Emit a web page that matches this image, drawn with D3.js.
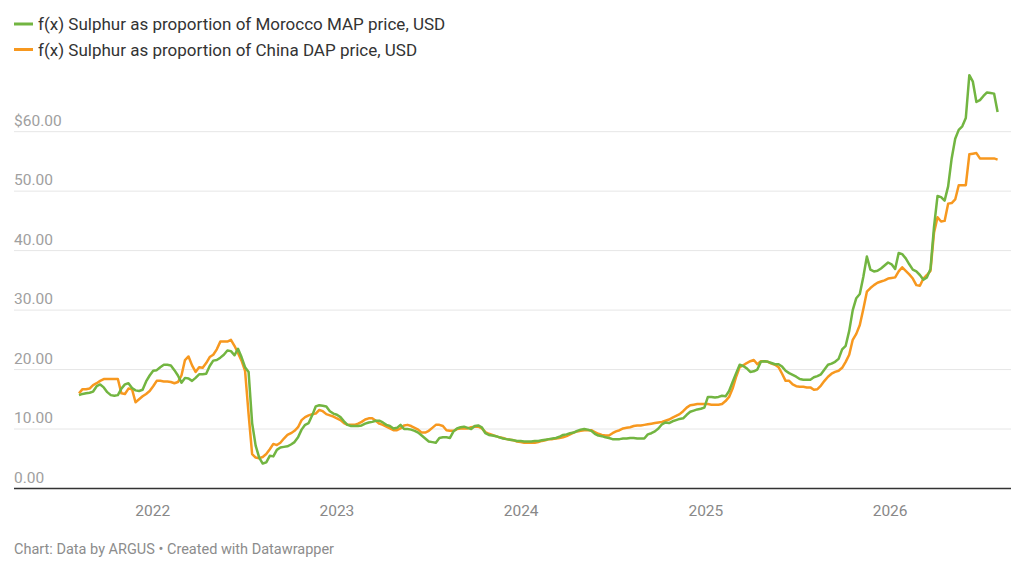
<!DOCTYPE html>
<html>
<head>
<meta charset="utf-8">
<script src="https://cdn.jsdelivr.net/npm/d3@7"></script>
<style>
  body { margin: 0; background: #fff; }
  text { font-family: Roboto, "Noto Sans", sans-serif; }
</style>
</head>
<body>
<div id="chart"></div>
<script>
// weekly observations, first week of the series
var firstWeek = new Date(2021, 7, 9);

var seriesNames = [
  "f(x) Sulphur as proportion of Morocco MAP price, USD",
  "f(x) Sulphur as proportion of China DAP price, USD"
];
var seriesColors = ["#72b541", "#f7981f"];

var moroccoMAP = [
  15.7,15.9,16.0,16.1,16.3,17.2,17.5,17.0,16.2,15.7,
  15.6,15.7,16.8,17.5,17.7,16.9,16.5,16.4,16.6,18.0,
  19.0,19.8,19.9,20.4,20.8,20.8,20.7,19.9,19.0,17.8,
  18.6,18.5,18.1,18.6,19.2,19.2,19.3,20.6,21.5,21.6,
  22.0,22.5,23.2,23.1,22.4,23.5,22.1,20.4,19.6,11.0,
  7.2,5.2,4.2,4.4,5.5,5.4,6.5,6.9,7.0,7.1,
  7.4,7.8,8.6,9.9,10.7,11.0,12.3,13.8,14.0,13.9,
  13.8,13.0,12.6,12.4,12.0,11.3,10.7,10.5,10.5,10.5,
  10.6,10.9,11.1,11.2,11.4,11.4,11.1,10.7,10.5,10.1,
  10.2,10.7,10.0,10.0,9.9,9.7,9.4,8.9,8.4,7.9,
  7.8,7.7,8.5,8.6,8.6,8.5,9.6,10.1,10.3,10.4,
  10.2,10.0,10.5,10.6,10.3,9.3,9.0,8.9,8.8,8.6,
  8.4,8.3,8.2,8.1,8.0,8.0,7.9,7.9,7.9,8.0,
  8.0,8.1,8.2,8.3,8.4,8.5,8.7,9.0,9.1,9.3,
  9.4,9.7,9.9,10.0,9.9,9.7,9.2,8.9,8.8,8.6,
  8.5,8.3,8.3,8.3,8.4,8.4,8.5,8.5,8.4,8.4,
  8.4,9.1,9.3,9.6,10.1,10.8,11.1,11.0,11.3,11.5,
  11.7,11.8,12.4,12.9,13.1,13.3,13.4,13.6,15.4,15.4,
  15.3,15.4,15.6,15.5,16.4,17.9,19.4,20.8,20.6,20.2,
  19.6,19.7,20.0,21.3,21.4,21.3,21.1,20.9,20.9,20.5,
  19.8,19.4,19.1,18.8,18.4,18.3,18.3,18.3,18.7,18.9,
  19.2,20.0,20.8,21.0,21.3,21.8,23.4,24.0,26.5,30.0,
  32.0,32.7,35.6,39.0,36.8,36.5,36.6,37.0,37.5,38.0,
  37.7,36.9,39.6,39.4,38.7,37.7,36.8,36.5,35.9,35.1,
  35.5,36.9,44.0,49.2,49.0,48.4,50.8,55.5,58.8,60.3,
  60.9,62.3,69.5,68.4,65.0,65.3,66.0,66.6,66.5,66.4,
  63.3
];

var chinaDAP = [
  16.0,16.7,16.7,16.8,17.4,17.7,18.1,18.4,18.4,18.4,
  18.4,18.4,16.0,15.9,16.8,16.7,14.5,15.0,15.5,15.9,
  16.4,17.2,18.1,18.1,18.0,18.0,17.9,17.7,17.9,19.0,
  21.6,22.2,20.7,19.6,20.4,20.3,21.1,22.1,22.5,23.4,
  24.7,24.7,24.7,25.0,24.0,22.8,21.5,19.8,12.5,5.8,
  5.2,5.1,5.3,5.8,6.6,7.5,7.3,7.7,8.4,9.0,
  9.3,9.7,10.3,11.5,12.0,12.3,12.5,12.6,13.2,13.0,
  12.5,12.3,12.1,11.8,11.5,11.0,10.7,10.7,10.7,10.9,
  11.2,11.6,11.8,11.8,11.4,10.9,10.7,10.4,10.1,9.8,
  9.8,10.1,10.6,10.7,10.5,10.2,9.9,9.4,9.4,9.7,
  10.2,10.7,10.7,10.5,9.8,9.7,9.7,10.0,10.1,10.1,
  10.1,10.3,10.4,10.4,10.1,9.5,9.2,9.0,8.8,8.6,
  8.5,8.3,8.2,8.1,7.9,7.8,7.7,7.7,7.7,7.7,
  7.8,8.0,8.1,8.3,8.3,8.4,8.5,8.6,8.8,9.1,
  9.4,9.6,9.7,9.8,9.8,9.8,9.5,9.2,9.0,8.9,
  8.9,9.3,9.6,9.8,10.1,10.2,10.3,10.5,10.6,10.6,
  10.7,10.8,10.9,11.0,11.1,11.2,11.4,11.6,11.9,12.2,
  12.5,13.0,13.6,14.0,14.1,14.2,14.2,14.2,14.2,14.1,
  14.1,14.1,14.2,14.7,15.4,16.8,18.8,20.4,20.7,21.1,
  21.4,21.6,20.9,21.4,21.4,21.3,21.0,20.8,20.4,19.3,
  18.1,18.1,17.5,17.2,17.1,17.1,17.0,17.0,16.6,16.7,
  17.3,18.1,18.8,19.3,19.6,19.8,20.3,21.3,22.5,25.0,
  26.0,27.5,30.2,33.1,33.7,34.2,34.6,34.8,35.0,35.3,
  35.4,35.5,36.5,37.2,36.6,36.0,35.3,34.2,34.1,35.3,
  35.9,36.6,43.0,45.6,44.9,45.0,47.9,48.0,48.6,51.0,
  51.0,51.0,56.2,56.3,56.4,55.5,55.5,55.5,55.5,55.5,
  55.3
];

var yTicks = [0, 10, 20, 30, 40, 50, 60];
var yTickLabels = ["0.00", "10.00", "20.00", "30.00", "40.00", "50.00", "$60.00"];
var xTickYears = [2022, 2023, 2024, 2025, 2026];
var footerText = "Chart: Data by ARGUS \u2022 Created with Datawrapper";

var weeks = moroccoMAP.map(function(d, i) { return d3.timeDay.offset(firstWeek, 7 * i); });

// set dimensions
var width = 1024, height = 572;
var left = 14, right = 1011;
var plotLeft = 79, plotRight = 997.6;
var plotTop = 72.2, plotBottom = 488.5;

var svg = d3.select("#chart")
  .append("svg")
  .attr("width", width)
  .attr("height", height);

var x = d3.scaleTime()
  .domain(d3.extent(weeks))
  .range([plotLeft, plotRight]);

var y = d3.scaleLinear()
  .domain([0, 70])
  .range([plotBottom, plotTop]);

// gridlines and y labels
var yAxis = svg.append("g").attr("class", "y-axis");
yAxis.selectAll("line")
  .data(yTicks.filter(function(d) { return d > 0; }))
  .join("line")
  .attr("x1", left)
  .attr("x2", right)
  .attr("y1", function(d) { return y(d); })
  .attr("y2", function(d) { return y(d); })
  .attr("stroke", "#e6e6e6")
  .attr("stroke-width", 1);

yAxis.selectAll("text")
  .data(yTicks)
  .join("text")
  .attr("x", left)
  .attr("y", function(d) { return y(d) - 6; })
  .attr("font-size", 15.5)
  .attr("fill", "#a0a0a0")
  .text(function(d, i) { return yTickLabels[i]; });

// x axis
var xAxis = svg.append("g")
  .attr("transform", "translate(0," + plotBottom + ")")
  .call(d3.axisBottom(x)
    .tickValues(xTickYears.map(function(yr) { return new Date(yr, 0, 1); }))
    .tickFormat(d3.timeFormat("%Y"))
    .tickSize(0)
    .tickPadding(16));
xAxis.select(".domain").remove();
xAxis.selectAll("text")
  .attr("font-family", "Roboto, sans-serif")
  .attr("font-size", 15.5)
  .attr("fill", "#888");

// lines
var line = d3.line()
  .x(function(d, i) { return x(weeks[i]); })
  .y(function(d) { return y(d); });

[moroccoMAP, chinaDAP].slice().reverse().forEach(function(series, k) {
  var idx = 1 - k;
  svg.append("path")
    .datum(series)
    .attr("fill", "none")
    .attr("stroke", seriesColors[idx])
    .attr("stroke-width", 2.5)
    .attr("stroke-linejoin", "round")
    .attr("d", line);
});

// zero baseline
svg.append("line")
  .attr("x1", left)
  .attr("x2", right)
  .attr("y1", y(0))
  .attr("y2", y(0))
  .attr("stroke", "#333")
  .attr("stroke-width", 1.3);

// legend
var legend = svg.append("g");
seriesNames.forEach(function(name, i) {
  var ly = 24 + i * 25.5;
  legend.append("line")
    .attr("x1", 14).attr("x2", 33)
    .attr("y1", ly).attr("y2", ly)
    .attr("stroke", seriesColors[i])
    .attr("stroke-width", 3);
  legend.append("text")
    .attr("x", 38)
    .attr("y", ly + 6)
    .attr("font-size", 17)
    .attr("fill", "#333")
    .text(name);
});

// footer
svg.append("text")
  .attr("x", left)
  .attr("y", 554)
  .attr("font-size", 14.5)
  .attr("fill", "#8c8c8c")
  .text(footerText);
</script>
</body>
</html>
